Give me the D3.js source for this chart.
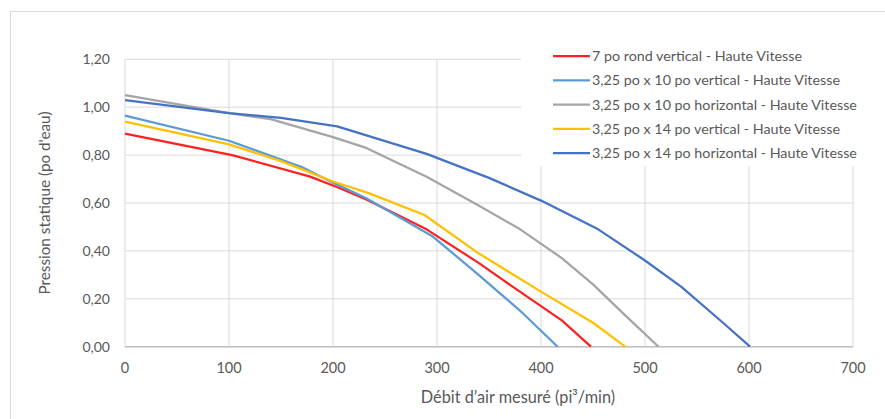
<!DOCTYPE html>
<html>
<head>
<meta charset="utf-8">
<script src="https://cdn.jsdelivr.net/npm/d3@7"></script>
<style>
  body { margin: 0; background: #fff; }
  svg text { font-family: Lato, 'Open Sans', sans-serif; fill: #595959; }
</style>
</head>
<body>
<svg id="chart" width="885" height="419"></svg>
<script>
const seriesNames = [
  '7 po rond vertical - Haute Vitesse',
  '3,25 po x 10 po vertical - Haute Vitesse',
  '3,25 po x 10 po horizontal - Haute Vitesse',
  '3,25 po x 14 po vertical - Haute Vitesse',
  '3,25 po x 14 po horizontal - Haute Vitesse',
];
const seriesColors = ['#ff2020', '#5b9bd5', '#a5a5a5', '#ffc000', '#4472c4'];

// [débit, pression]
const rond7 = [[0, 0.89], [103, 0.80], [178, 0.71], [205, 0.665], [232, 0.615], [290, 0.49], [340, 0.35], [373, 0.25], [420, 0.11], [448, 0]];
const vert10 = [[0, 0.965], [100, 0.86], [170, 0.75], [200, 0.685], [232, 0.62], [296, 0.46], [340, 0.30], [380, 0.15], [416, 0]];
const horiz10 = [[0, 1.05], [100, 0.975], [140, 0.95], [200, 0.875], [232, 0.83], [290, 0.71], [340, 0.59], [380, 0.49], [420, 0.37], [450, 0.26], [480, 0.135], [513, 0]];
const vert14 = [[0, 0.94], [100, 0.845], [150, 0.775], [200, 0.69], [235, 0.64], [288, 0.55], [340, 0.39], [400, 0.23], [450, 0.10], [481, 0]];
const horiz14 = [[0, 1.03], [100, 0.975], [150, 0.955], [204, 0.92], [290, 0.805], [350, 0.705], [400, 0.61], [455, 0.49], [500, 0.36], [535, 0.25], [575, 0.10], [601, 0]];
const allSeries = [rond7, vert10, horiz10, vert14, horiz14];

const xTicks = [0, 100, 200, 300, 400, 500, 600, 700];
const yTicks = [0, 0.2, 0.4, 0.6, 0.8, 1.0, 1.2];

const svg = d3.select('#chart');

// chart border
svg.append('rect')
  .attr('x', 10.5).attr('y', 11.5)
  .attr('width', 900).attr('height', 420)
  .attr('fill', 'none').attr('stroke', '#d9d9d9');

const x = d3.scaleLinear().domain([0, 700]).range([125, 853]);
const y = d3.scaleLinear().domain([0, 1.2]).range([346.7, 59.3]);
const fmt = (v) => v.toFixed(2).replace('.', ',');

// gridlines
svg.append('g')
  .selectAll('line')
  .data(xTicks)
  .join('line')
  .attr('x1', (d) => x(d)).attr('x2', (d) => x(d))
  .attr('y1', y(0)).attr('y2', y(1.2))
  .attr('stroke', '#d9d9d9').attr('stroke-width', 1);

svg.append('g')
  .selectAll('line')
  .data(yTicks)
  .join('line')
  .attr('x1', x(0)).attr('x2', x(700))
  .attr('y1', (d) => y(d)).attr('y2', (d) => y(d))
  .attr('stroke', '#d9d9d9').attr('stroke-width', 1);

// bottom axis line
svg.append('line')
  .attr('x1', x(0)).attr('x2', x(700))
  .attr('y1', y(0)).attr('y2', y(0))
  .attr('stroke', '#bfbfbf').attr('stroke-width', 1.5);

// tick labels
svg.append('g')
  .selectAll('text')
  .data(xTicks)
  .join('text')
  .attr('x', (d) => x(d))
  .attr('y', 373)
  .attr('text-anchor', 'middle')
  .attr('font-size', 14.5)
  .text((d) => d);

svg.append('g')
  .selectAll('text')
  .data(yTicks)
  .join('text')
  .attr('x', 110)
  .attr('y', (d) => y(d) + 5)
  .attr('text-anchor', 'end')
  .attr('font-size', 14)
  .text(fmt);

// axis titles
svg.append('text')
  .attr('x', 518).attr('y', 403)
  .attr('text-anchor', 'middle')
  .attr('font-size', 16.3)
  .text('Débit d\u2019air mesuré (pi³/min)');

svg.append('text')
  .attr('transform', 'translate(50,203) rotate(-90)')
  .attr('text-anchor', 'middle')
  .attr('font-size', 15.3)
  .text('Pression statique (po d\'eau)');

// legend background
const legendTop = 44;
const legendStep = 24.3;
svg.append('rect')
  .attr('x', 521).attr('y', legendTop)
  .attr('width', 345).attr('height', 122)
  .attr('fill', '#fff');

// series
const line = d3.line().x((d) => x(d[0])).y((d) => y(d[1]));
svg.append('g')
  .selectAll('path')
  .data(allSeries)
  .join('path')
  .attr('d', line)
  .attr('fill', 'none')
  .attr('stroke', (d, i) => seriesColors[i])
  .attr('stroke-width', 2.25)
  .attr('stroke-linejoin', 'round');

// legend
const leg = svg.append('g')
  .selectAll('g')
  .data(seriesNames)
  .join('g')
  .attr('transform', (d, i) => `translate(553,${56 + i * legendStep})`);

leg.append('line')
  .attr('x1', 0).attr('x2', 37)
  .attr('stroke', (d, i) => seriesColors[i])
  .attr('stroke-width', 2.25);

leg.append('text')
  .attr('x', 39).attr('y', 5)
  .attr('font-size', 14.3)
  .text((d) => d);
</script>
</body>
</html>
